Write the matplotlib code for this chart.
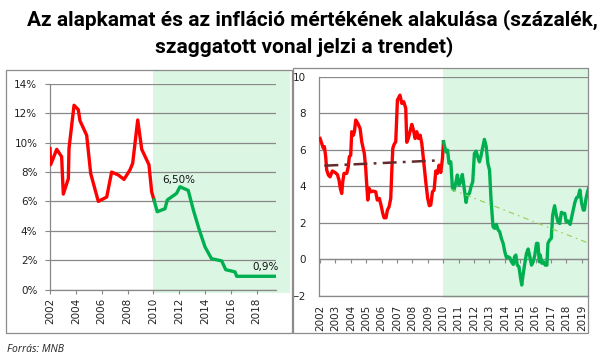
import matplotlib
matplotlib.use('Agg')
import matplotlib.pyplot as plt
from matplotlib.patches import Rectangle
from matplotlib.ticker import FuncFormatter
import numpy as np

plt.rcParams['lines.scale_dashes'] = False

# ---------------- data ----------------
title_line1 = "Az alapkamat és az infláció mértékének alakulása (százalék,"
title_line2 = "szaggatott vonal jelzi a trendet)"
source_text = "Forrás: MNB"

# base rate (left panel), year vs percent
rate_years = [2002.0, 2002.05, 2002.52, 2002.9, 2003.03, 2003.42, 2003.47, 2003.86,
              2004.19, 2004.32, 2004.84, 2005.15, 2005.74, 2006.39, 2006.77, 2007.29,
              2007.73, 2008.19, 2008.4, 2008.79, 2009.1, 2009.66, 2009.87, 2010.05,
              2010.3, 2010.9, 2011.08, 2011.8, 2012.06, 2012.7, 2013.1, 2013.56,
              2014.0, 2014.5, 2015.29, 2015.6, 2016.32, 2016.45, 2019.47]
rate_values = [9.6, 8.5, 9.55, 9.05, 6.5, 7.55, 9.6, 12.55,
               12.25, 11.5, 10.5, 7.9, 6.0, 6.3, 8.0, 7.8,
               7.5, 8.15, 8.6, 11.55, 9.55, 8.5, 6.65, 6.1,
               5.3, 5.5, 6.1, 6.55, 7.0, 6.75, 5.4, 4.05,
               2.9, 2.1, 1.95, 1.35, 1.2, 0.9, 0.9]
rate_split_year = 2010.05
rate_ticks = [2002, 2004, 2006, 2008, 2010, 2012, 2014, 2016, 2018]
rate_yticks = [0, 2, 4, 6, 8, 10, 12, 14]
rate_label_peak = "6,50%"
rate_label_end = "0,9%"

# inflation (right panel), months since Jan 2002 vs percent
infl_months = [0, 1.3, 2.6, 3.4, 4.4, 5.2, 6.5, 7.8, 9.6, 11.7, 13.5, 14.8, 15.8, 16.9,
               17.7, 18.7, 20.8, 22, 22.8, 23.9, 24.7, 26, 26.8, 27.8, 29.4, 31.2, 32.5,
               34.5, 35.6, 36.4, 37.2, 38.2, 39.7, 41.5, 43.4, 44.6, 46.2, 47.5, 48.9,
               49.9, 51.4, 52.5, 53.8, 55.1, 55.9, 56.7, 57.7, 59.0, 60.3, 62.3, 63.7,
               65.2, 66.8, 67.6, 68.8, 70.1, 71.5, 72.8, 74.1, 75.4, 76.7, 78, 79.3,
               80.8, 82.4, 83.9, 85.2, 86.3, 87.6, 88.9, 90.2, 91.5, 92.8, 94.1, 95.4,
               96.2, 98.1, 99.4, 100.5, 101.9, 103.2, 104.4, 105.7, 107, 108.3, 109.6,
               110.9, 112.2, 113.8, 114.8, 116.4, 117.7, 119, 120.3, 121.6, 122.9,
               124.2, 125.3, 126.6, 128.1, 129.5, 130.8, 132.1, 133.2, 134.8, 136.1,
               137.4, 138.8, 140, 141.3, 142.7, 144, 145.3, 146.6, 147.9, 149.2, 150.6,
               151.6, 152.6, 153.7, 155, 156.3, 157.2, 158.2, 159.6, 160.9, 162.2,
               163.5, 164.8, 166.1, 167.4, 168.7, 169.8, 170.9, 171.6, 172.9, 174.2,
               175.5, 176.8, 177.6, 178.9, 180.2, 181.3, 182.8, 184.1, 185.5, 186.8,
               188.1, 189.4, 190.7, 191.8, 193.3, 194.9, 195.9, 197.3, 198.6, 199.9,
               201.2, 202.5, 203.9, 205.2, 206, 207.3, 208.6, 209.7]
infl_values = [6.62, 6.35, 6.08, 6.17, 5.62, 4.89, 4.62, 4.52, 4.84, 4.76, 4.65, 4.34, 3.89, 3.61,
               4.25, 4.71, 4.71, 5.07, 5.62, 5.71, 6.99, 6.8, 6.99, 7.63, 7.45, 7.17, 6.44,
               5.8, 4.98, 4.07, 3.25, 3.89, 3.7, 3.74, 3.7, 3.25, 3.34, 2.98, 2.52,
               2.28, 2.28, 2.7, 2.88, 3.34, 4.8, 6.08, 6.29, 6.44, 8.72, 8.99, 8.54,
               8.63, 8.27, 6.41, 6.62, 6.99, 7.39, 7.08, 6.62, 6.99, 6.62, 6.8, 6.35,
               5.34, 4.25, 3.34, 2.94, 2.98, 3.7, 3.8, 4.84, 4.71, 5.16, 4.76, 5.53,
               6.44, 5.89, 5.98, 5.26, 5.34, 3.89, 3.8, 4.16, 4.62, 4.07, 4.25,
               4.65, 3.98, 3.12, 3.52, 3.61, 3.98, 4.25, 5.8, 5.93, 5.62,
               5.34, 5.62, 6.08, 6.57, 6.17, 5.26, 4.89, 3.34, 1.79, 1.7,
               1.92, 1.61, 1.52, 1.15, 0.88, 0.42, 0.09, 0.15, 0.09, -0.13, -0.27,
               0.15, 0.24, -0.31, -0.4, -1.03, -1.4, -0.85, -0.21, 0.33, 0.57,
               0.15, -0.31, -0.13, 0.24, 0.88, 0.88, -0.13, 0.24, -0.21, -0.13,
               -0.31, -0.31, 0.88, 1.06, 1.15, 2.43, 2.94, 2.43, 2.03, 1.97,
               2.58, 2.52, 2.52, 2.06, 2.1, 1.92, 2.25, 2.7, 3.12, 3.38,
               3.43, 3.8, 3.07, 2.7, 2.7, 3.34, 3.74, 3.98]
infl_split_month = 96.2
trend1_months = [3.4, 92.3]
trend1_values = [5.13, 5.42]
trend2_months = [102, 209.7]
trend2_values = [3.85, 0.88]
infl_year_labels = [str(y) for y in range(2002, 2020)]
infl_yticks = [-2, 0, 2, 4, 6, 8, 10]

# ---------------- style ----------------
W, H = 605, 362
RED = '#ff0000'
GREEN = '#00b050'
MINT = '#dcf6e4'
GRID = '#888888'
FRAME = '#8c8c8c'


def fx(px):
    return px / W


def fy(py):
    return 1 - py / H


fig = plt.figure(figsize=(W / 100, H / 100), dpi=100)
fig.patch.set_facecolor('white')

# panel frames
for (x0, y0, x1, y1) in [(6, 70, 291.5, 333), (293, 68, 588, 333)]:
    fig.add_artist(Rectangle((fx(x0), fy(y1)), fx(x1) - fx(x0), fy(y0) - fy(y1),
                             transform=fig.transFigure, fill=False, ec=FRAME, lw=0.9))

# ---------------- left panel ----------------
ax1 = fig.add_axes([fx(50), fy(289.5), fx(275.7) - fx(50), fy(84) - fy(289.5)])
ax1.set_facecolor('none')
ax1.set_xlim(2002, 2019.47)
ax1.set_ylim(0, 14)
ax1.axvspan(2010, 2020.58, ymin=-0.017, ymax=1.068, color=MINT, lw=0, zorder=0, clip_on=False)
ax1.set_axisbelow(True)
ax1.yaxis.grid(True, color=GRID, lw=0.9)
ax1.set_yticks(rate_yticks)
ax1.yaxis.set_major_formatter(FuncFormatter(lambda v, p: f"{int(v)}%"))
ax1.set_xticks(rate_ticks)
ax1.set_xticklabels([str(t) for t in rate_ticks], rotation=90)
for s in ['top', 'right']:
    ax1.spines[s].set_visible(False)
for s in ['left', 'bottom']:
    ax1.spines[s].set_color(GRID)
    ax1.spines[s].set_linewidth(0.9)
ax1.tick_params(axis='y', length=3.6, width=0.8, color=GRID, pad=5.5, labelsize=7.5, labelcolor='#222222')
ax1.tick_params(axis='x', length=3.2, width=0.8, color=GRID, pad=3.0, labelsize=7.5, labelcolor='#222222')

ry = np.array(rate_years)
rv = np.array(rate_values)
m_red = ry <= rate_split_year
m_green = ry >= rate_split_year
ax1.plot(ry[m_red], rv[m_red], color=RED, lw=2.4, solid_joinstyle='round', zorder=3)
ax1.plot(ry[m_green], rv[m_green], color=GREEN, lw=2.4, solid_joinstyle='round', zorder=3)
ax1.text(2011.96, 7.46, rate_label_peak, ha='center', va='center', fontsize=7.5, color='#111111')
ax1.text(2018.72, 1.55, rate_label_end, ha='center', va='center', fontsize=7.5, color='#111111')

# ---------------- right panel ----------------
ax2 = fig.add_axes([fx(319.4), fy(296), fx(587.7) - fx(319.4), fy(76.7) - fy(296)])
ax2.set_facecolor('none')
ax2.set_xlim(-0.5, 208.6)
ax2.set_ylim(-2, 10)
ax2.axvspan(infl_split_month - 0.5, 208.6, ymin=-0.01, ymax=1.04, color=MINT, lw=0, zorder=0, clip_on=False)
ax2.set_axisbelow(True)
ax2.yaxis.grid(True, color=GRID, lw=0.9)
ax2.set_yticks(infl_yticks)
label_pos = [12 * i for i in range(len(infl_year_labels))]
ax2.set_xticks(label_pos)
ax2.set_xticklabels(infl_year_labels, rotation=90)
for s in ['top', 'right']:
    ax2.spines[s].set_visible(False)
for s in ['left', 'bottom']:
    ax2.spines[s].set_color(GRID)
    ax2.spines[s].set_linewidth(0.9)
ax2.tick_params(axis='y', length=0, pad=9.4, labelsize=7.5, labelcolor='#222222')
ax2.tick_params(axis='x', length=0, pad=6.5, labelsize=7.5, labelcolor='#222222')

zero_frac = (0 - (-2)) / (10 - (-2))
sec = ax2.secondary_xaxis(zero_frac)
sec.set_xticks(label_pos)
sec.tick_params(axis='x', direction='out', length=3.2, width=0.8, color=GRID, labelbottom=False)
sec.spines['bottom'].set_color(GRID)
sec.spines['bottom'].set_linewidth(0.9)

im = np.array(infl_months)
iv = np.array(infl_values)
ax2.plot(im[im <= infl_split_month], iv[im <= infl_split_month], color=RED, lw=2.4,
         solid_joinstyle='round', zorder=3)
ax2.plot(im[im >= infl_split_month], iv[im >= infl_split_month], color=GREEN, lw=2.4,
         solid_joinstyle='round', zorder=3)
ax2.plot(trend1_months, trend1_values, color='#632b2b', lw=1.8, dashes=(10, 4.5, 2, 4.5), zorder=4)
ax2.plot(trend2_months, trend2_values, color='#92d050', lw=0.8, dashes=(4, 3, 1.2, 3), zorder=4)

# ---------------- texts ----------------
fig.text(fx(312), fy(20), title_line1, ha='center', va='center', fontsize=15,
         fontweight='bold', family='Roboto', color='black')
fig.text(fx(304), fy(47), title_line2, ha='center', va='center', fontsize=15,
         fontweight='bold', family='Roboto', color='black')
fig.text(fx(7), fy(349), source_text, ha='left', va='center', fontsize=7.5,
         style='italic', family='Open Sans', color='#222222')

fig.savefig('out.png', dpi=100)
